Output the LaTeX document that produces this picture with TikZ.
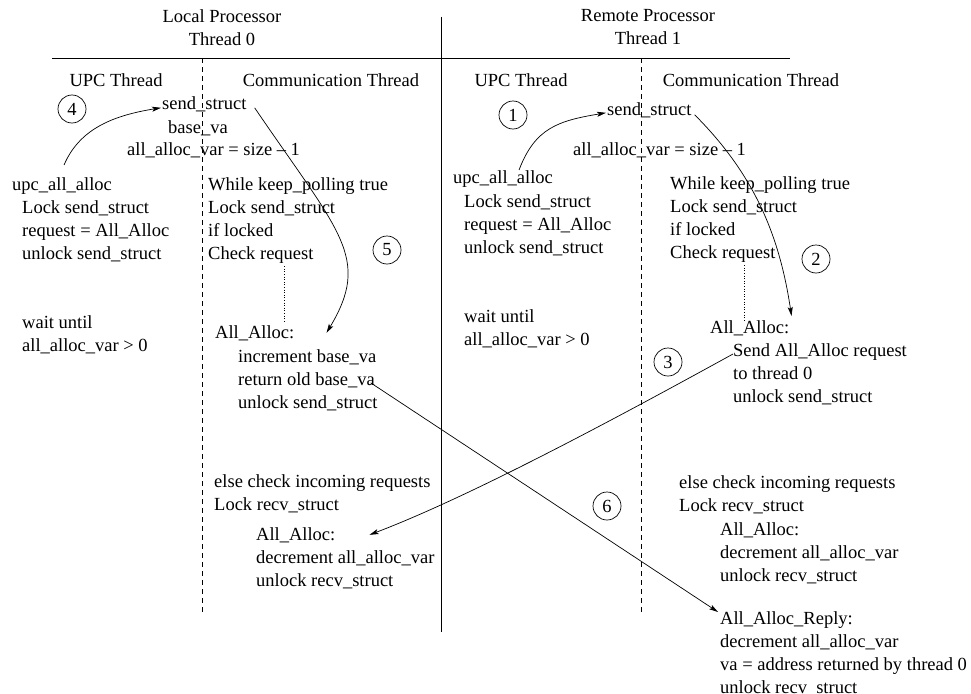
\documentclass[tikz,border=0pt]{standalone}
\usepackage{fontspec}
\setmainfont{Liberation Serif}
\usetikzlibrary{arrows.meta}
\begin{document}
\begin{tikzpicture}[x=1pt, y=-1pt,
    txt/.style={inner sep=0pt, anchor=north west, align=left, font=\fontsize{18.5}{23}\selectfont},
    hdr/.style={txt, anchor=north, align=center},
    stepnum/.style={circle, draw, line width=0.7pt, minimum size=28pt, inner sep=0pt, font=\fontsize{18.5}{23}\selectfont},
    flow/.style={-{Stealth[length=9pt, width=5pt, inset=2pt]}, line width=0.7pt},
    lane/.style={line width=0.7pt, dash pattern=on 5pt off 4pt},
    dotline/.style={dotted, line width=0.6pt}
]
\useasboundingbox (0,0) rectangle (971,693);

% Frame: processors and threads
\draw[line width=0.7pt] (52,58) -- (790,58);
\draw[line width=0.7pt] (441,17) -- (441,632);
\draw[lane] (202,58) -- (202,613);
\draw[lane] (641,58) -- (641,613);

% Headers
\node[hdr] (localhd)  at (222,9) {Local Processor\\Thread 0};
\node[hdr] (remotehd) at (648,9) {Remote Processor\\Thread 1};
\node[hdr] (upcLhd)   at (116,73) {UPC Thread};
\node[hdr] (comLhd)   at (331,73) {Communication Thread};
\node[hdr] (upcRhd)   at (521,73) {UPC Thread};
\node[hdr] (comRhd)   at (751,73) {Communication Thread};

% Local processor, thread 0
\node[txt] (sendL)  at (162,96)  {send\_struct};
\node[txt] (baseL)  at (168,120) {base\_va};
\node[txt] (varL)   at (127,142) {all\_alloc\_var = size -- 1};
\node[txt] (upcL)   at (12,177)  {upc\_all\_alloc};
\node[txt] (upcLb)  at (22,200)  {Lock send\_struct\\request = All\_Alloc\\unlock send\_struct};
\node[txt] (waitL)  at (22,315)  {wait until\\all\_alloc\_var > 0};
\node[txt] (pollL)  at (208,177) {While keep\_polling true\\Lock send\_struct\\if locked\\Check request};
\node[txt] (allocLa) at (215,325) {All\_Alloc:};
\node[txt] (allocLb) at (238,349) {increment base\_va\\return old base\_va\\unlock send\_struct};
\node[txt] (elseL)  at (214,474) {else check incoming requests\\Lock recv\_struct};
\node[txt] (recvLa) at (256,527) {All\_Alloc:};
\node[txt] (recvLb) at (256,550) {decrement all\_alloc\_var\\unlock recv\_struct};

% Remote processor, thread 1
\node[txt] (sendR)  at (607,102) {send\_struct};
\node[txt] (varR)   at (573,142) {all\_alloc\_var = size -- 1};
\node[txt] (upcR)   at (453,170) {upc\_all\_alloc};
\node[txt] (upcRb)  at (464,194) {Lock send\_struct\\request = All\_Alloc\\unlock send\_struct};
\node[txt] (waitR)  at (464,309) {wait until\\all\_alloc\_var > 0};
\node[txt] (pollR)  at (670,176) {While keep\_polling true\\Lock send\_struct\\if locked\\Check request};
\node[txt] (allocRa) at (710,320) {All\_Alloc:};
\node[txt] (allocRb) at (733,343) {Send All\_Alloc request\\to thread 0\\unlock send\_struct};
\node[txt] (elseR)  at (679,475) {else check incoming requests\\Lock recv\_struct};
\node[txt] (recvRa) at (720,522) {All\_Alloc:};
\node[txt] (recvRb) at (720,545) {decrement all\_alloc\_var\\unlock recv\_struct};
\node[txt] (replyR) at (720,611) {All\_Alloc\_Reply:\\decrement all\_alloc\_var\\va = address returned by thread 0\\unlock recv\_struct};

% Step numbers
\node[stepnum] (s1) at (513,115) {1};
\node[stepnum] (s2) at (816,259) {2};
\node[stepnum] (s3) at (668,362) {3};
\node[stepnum] (s4) at (72,109)  {4};
\node[stepnum] (s5) at (387,250) {5};
\node[stepnum] (s6) at (607,506) {6};

% Request checks
\draw[dotline] ([xshift=76pt, yshift=-3pt]pollL.south west) -- +(0,57);
\draw[dotline] ([xshift=74pt, yshift=-3pt]pollR.south west) -- +(0,55);

% Message flow
\draw[flow] ([xshift=16pt]upcR.north) .. controls +(16,-42) and +(-48,8) .. ([xshift=-1pt, yshift=-3pt]sendR.west);
\draw[flow] ([xshift=3pt, yshift=-5pt]sendR.east) .. controls +(60,60) and +(-12,-80) .. ([xshift=2pt, yshift=4pt]allocRa.north east);
\draw[flow] ([yshift=-11pt]allocRb.north west) .. controls +(-120,66) and +(100,-38) .. ([xshift=34pt]recvLa.east);
\draw[flow] ([xshift=2pt, yshift=12pt]upcL.north) .. controls +(15,-35) and +(-50,8) .. ([xshift=-1pt, yshift=-4pt]sendL.west);
\draw[flow] ([xshift=8pt, yshift=-4pt]sendL.east) .. controls +(85,125) and +(45,-75) .. ([xshift=32pt]allocLa.east);
\draw[flow] ([xshift=-7pt, yshift=-3pt]allocLb.east) -- ([xshift=-2pt, yshift=-1pt]replyR.north west);

\end{tikzpicture}
\end{document}
